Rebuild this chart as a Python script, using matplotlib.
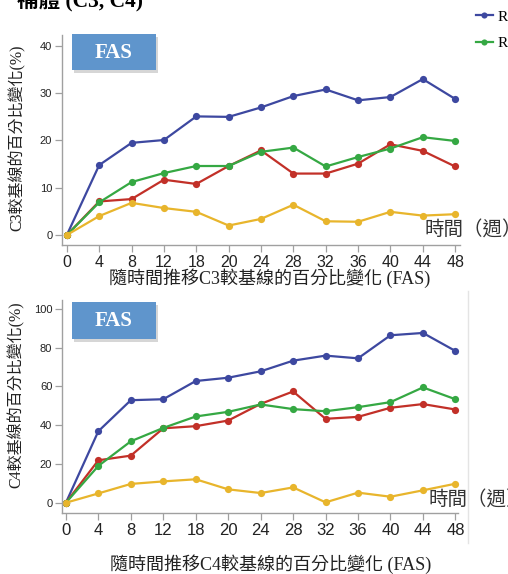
import matplotlib
matplotlib.use("Agg")
import matplotlib.pyplot as plt
from matplotlib.patches import Rectangle
from matplotlib.lines import Line2D

# Visit weeks (categorical, evenly spaced)
weeks = ["0", "4", "8", "12", "18", "20", "24", "28", "32", "36", "40", "44", "48"]

# Percent change from baseline in C3
c3_blue = [0, 14.8, 19.5, 20.1, 25.1, 25.0, 27.0, 29.4, 30.8, 28.5, 29.2, 33.0, 28.8]
c3_red = [0, 7.1, 7.6, 11.7, 10.8, 14.6, 17.9, 13.0, 13.0, 15.1, 19.2, 17.8, 14.5]
c3_green = [0, 6.9, 11.2, 13.1, 14.6, 14.6, 17.6, 18.5, 14.5, 16.5, 18.3, 20.7, 19.9]
c3_yellow = [0, 4.0, 6.8, 5.7, 4.9, 2.0, 3.4, 6.4, 2.9, 2.8, 4.9, 4.1, 4.4]

# Percent change from baseline in C4
c4_blue = [0, 36.9, 52.9, 53.4, 62.8, 64.5, 67.8, 73.3, 75.9, 74.5, 86.4, 87.6, 78.3]
c4_red = [0, 21.9, 24.3, 38.4, 39.5, 42.4, 51.0, 57.4, 43.3, 44.3, 49.0, 50.9, 48.1]
c4_green = [0, 19.0, 31.7, 38.6, 44.5, 46.9, 50.7, 48.3, 47.2, 49.3, 51.9, 59.5, 53.4]
c4_yellow = [0, 4.8, 9.7, 11.0, 12.1, 6.9, 5.0, 7.9, 0.2, 5.2, 3.1, 6.4, 9.8]

legend_labels = ["R", "R"]

BLUE = "#3d48a0"
RED = "#c23028"
GREEN = "#35a843"
YELLOW = "#e8b52c"
BOX = "#5f95cc"
AXIS = "#a0a0a0"

SERIF_CJK = ["Liberation Serif", "Noto Sans CJK TC"]

W, H = 508, 574
fig = plt.figure(figsize=(W / 100, H / 100), dpi=100)


def fx(px):
    return px / W


def fy(py):
    return 1 - py / H


def panel(rect_px, series, ylim, xlim, yticks, xtick_size, ylabel, xlabel,
          ylabel_pos, xlabel_pos, time_pos, box_px):
    x0, y0, x1, y1 = rect_px
    ax = fig.add_axes([fx(x0), fy(y1), fx(x1) - fx(x0), fy(y0) - fy(y1)])
    xs = list(range(len(weeks)))
    lines = []
    for vals, col in series:
        ln, = ax.plot(xs, vals, color=col, lw=1.6, marker="o", ms=5.2,
                      markeredgewidth=0, clip_on=False)
        lines.append(ln)
    ax.set_xlim(*xlim)
    ax.set_ylim(*ylim)
    ax.set_xticks(xs)
    ax.set_xticklabels(weeks)
    ax.set_yticks(yticks)
    for s in ("top", "right"):
        ax.spines[s].set_visible(False)
    for s in ("left", "bottom"):
        ax.spines[s].set_color(AXIS)
        ax.spines[s].set_linewidth(1.0)
    ax.tick_params(axis="both", direction="out", length=5, width=0.9,
                   color=AXIS, labelcolor="#222222")
    ax.tick_params(axis="y", labelsize=8, pad=2)
    ax.tick_params(axis="x", labelsize=xtick_size, pad=2)
    for t in ax.get_xticklabels() + ax.get_yticklabels():
        t.set_family(["Liberation Sans", "DejaVu Sans"])
    ax.patch.set_alpha(0)

    fig.text(fx(ylabel_pos[0]), fy(ylabel_pos[1]), ylabel, rotation=90,
             ha="center", va="center", fontsize=11.5, family=SERIF_CJK,
             color="#222222")
    fig.text(fx(xlabel_pos[0]), fy(xlabel_pos[1]), xlabel, ha="center",
             va="center", fontsize=13, family=SERIF_CJK, color="#222222")
    fig.text(fx(time_pos[0]), fy(time_pos[1]), "時間（週）", ha="left",
             va="center", fontsize=14, family=["Noto Sans CJK TC"],
             color="#333333")

    bx0, by0, bx1, by1 = box_px
    shadow = Rectangle((fx(bx0 + 2), fy(by1 + 3)), fx(bx1) - fx(bx0),
                       fy(by0) - fy(by1), transform=fig.transFigure,
                       facecolor="#9a9a9a", alpha=0.4, edgecolor="none",
                       zorder=4)
    box = Rectangle((fx(bx0), fy(by1)), fx(bx1) - fx(bx0),
                    fy(by0) - fy(by1), transform=fig.transFigure,
                    facecolor=BOX, edgecolor="none", zorder=5)
    fig.add_artist(shadow)
    fig.add_artist(box)
    fig.text(fx((bx0 + bx1) / 2), fy((by0 + by1) / 2 + 1), "FAS",
             ha="center", va="center", fontsize=15, fontweight="bold",
             family="Liberation Serif", color="white", zorder=6)
    return ax, lines


ax1, lines1 = panel(
    (62, 35, 460, 245),
    [(c3_blue, BLUE), (c3_red, RED), (c3_green, GREEN), (c3_yellow, YELLOW)],
    ylim=(-2.12, 42.33), xlim=(-0.15, 12.15), yticks=[0, 10, 20, 30, 40],
    xtick_size=11.5,
    ylabel="C3較基線的百分比變化(%)",
    xlabel="隨時間推移C3較基線的百分比變化 (FAS)",
    ylabel_pos=(17, 138), xlabel_pos=(270, 278), time_pos=(424, 230),
    box_px=(72, 34, 156, 70),
)

ax2, lines2 = panel(
    (62, 300, 458, 513),
    [(c4_blue, BLUE), (c4_red, RED), (c4_green, GREEN), (c4_yellow, YELLOW)],
    ylim=(-5.3, 104.6), xlim=(-0.12, 12.08), yticks=[0, 20, 40, 60, 80, 100],
    xtick_size=12,
    ylabel="C4較基線的百分比變化(%)",
    xlabel="隨時間推移C4較基線的百分比變化 (FAS)",
    ylabel_pos=(16, 395), xlabel_pos=(271, 564), time_pos=(428, 500),
    box_px=(72, 302, 156, 339),
)

# Faint frame edge beside the lower panel
fig.add_artist(Line2D([fx(468), fx(468)], [fy(291), fy(543)],
                      transform=fig.transFigure, color="#e4e4e4", lw=1))

# Heading (runs past the top edge)
fig.text(fx(143), fy(6), "補體 (C3, C4)", ha="right", va="baseline",
         fontsize=15.5, fontweight="bold", family=SERIF_CJK, color="black")

# Legend in the top right corner
fig.legend([lines1[0], lines1[2]], legend_labels, loc="upper left",
           bbox_to_anchor=(fx(476), fy(10)), frameon=False,
           prop={"family": "Liberation Serif", "size": 11},
           handlelength=1.1, handletextpad=0.3, labelspacing=0.85,
           borderaxespad=0, borderpad=0, markerscale=0.85)

fig.savefig("out.png", dpi=100)
